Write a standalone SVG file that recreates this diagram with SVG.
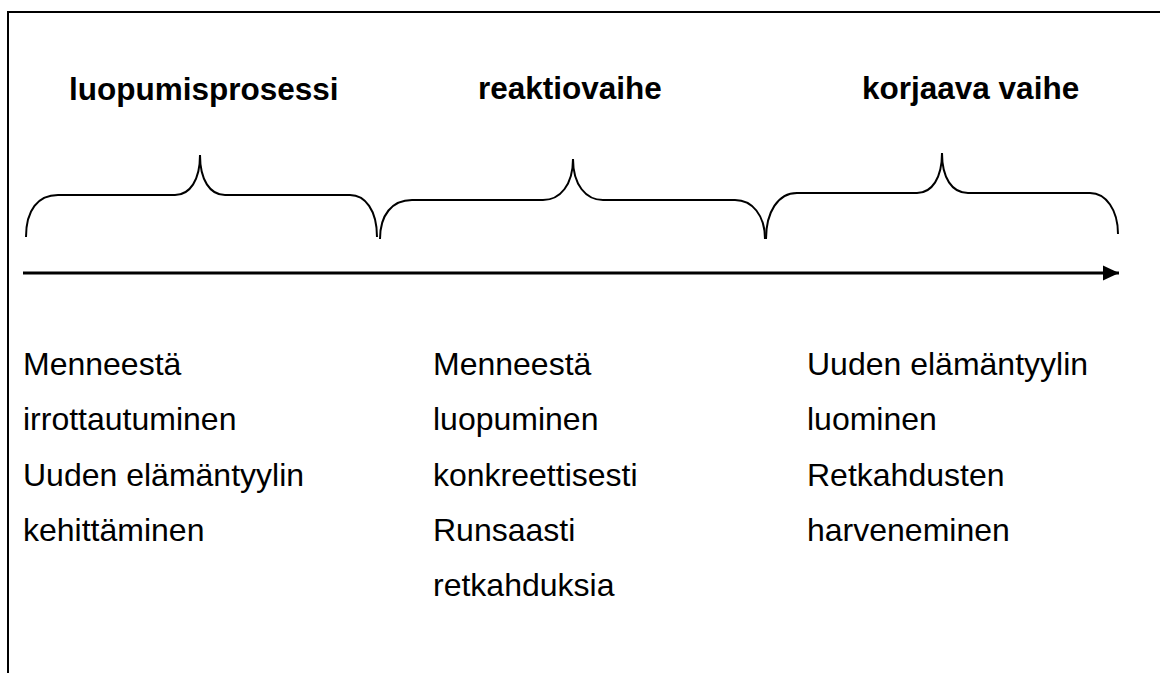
<svg xmlns="http://www.w3.org/2000/svg" width="1160" height="673" viewBox="0 0 1160 673">
<style>
.title{font-family:"Liberation Sans",Arial,sans-serif;font-weight:bold;font-size:31.5px;fill:#000}
.body{font-family:"Liberation Sans",Arial,sans-serif;font-size:32px;fill:#000}
.brace{fill:none;stroke:#000;stroke-width:2}
.frame{fill:none;stroke:#000;stroke-width:2}
</style>
<defs>
<marker id="ah" markerWidth="16" markerHeight="16" refX="16" refY="8" orient="auto" markerUnits="userSpaceOnUse">
<path d="M0,0.5 L16,8 L0,15.5 Z" fill="#000"/>
</marker>
</defs>
<rect width="1160" height="673" fill="#fff"/>
<path class="frame" d="M8,673 L8,12 L1160,12"/>
<g id="connectors">
<line x1="23" y1="273" x2="1119" y2="273" stroke="#000" stroke-width="3" marker-end="url(#ah)"/>
</g>
<g id="phase1">
<text class="title" x="69" y="100">luopumisprosessi</text>
<path class="brace" d="M26,237 C26,210 38,195 58,195 L175,195 C190,195 200,180 200,155 C200,180 210,195 225,195 L350,195 C365,195 377,210 377,237"/>
<text class="body" x="23" y="375">Menneestä</text>
<text class="body" x="23" y="430">irrottautuminen</text>
<text class="body" x="23" y="486">Uuden elämäntyylin</text>
<text class="body" x="23" y="541">kehittäminen</text>
</g>
<g id="phase2">
<text class="title" x="478" y="99">reaktiovaihe</text>
<path class="brace" d="M380,239 C380,215 392,200 412,200 L543,200 C560,200 573,185 573,159 C573,185 586,200 603,200 L735,200 C752,200 765,215 765,239"/>
<text class="body" x="433" y="375">Menneestä</text>
<text class="body" x="433" y="430">luopuminen</text>
<text class="body" x="433" y="486">konkreettisesti</text>
<text class="body" x="433" y="541">Runsaasti</text>
<text class="body" x="433" y="596">retkahduksia</text>
</g>
<g id="phase3">
<text class="title" x="862" y="99">korjaava vaihe</text>
<path class="brace" d="M766,239 C766,212 778,193 797,193 L917,193 C932,193 942,178 942,153 C942,178 952,193 968,193 L1090,193 C1106,193 1118,210 1118,234"/>
<text class="body" x="807" y="375">Uuden elämäntyylin</text>
<text class="body" x="807" y="430">luominen</text>
<text class="body" x="807" y="486">Retkahdusten</text>
<text class="body" x="807" y="541">harveneminen</text>
</g>
</svg>
